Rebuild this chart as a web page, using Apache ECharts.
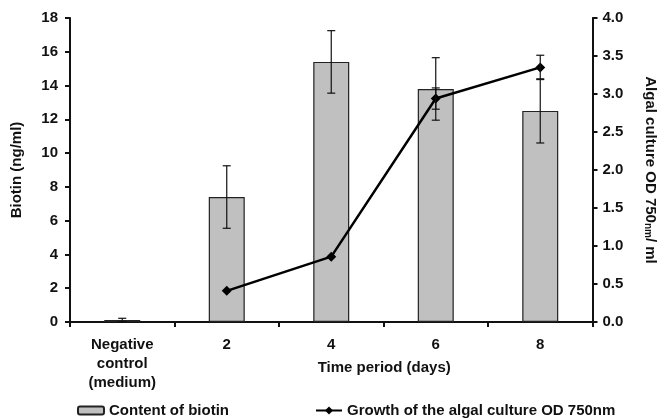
<!DOCTYPE html>
<html>
<head>
<meta charset="utf-8">
<script src="https://cdn.jsdelivr.net/npm/echarts@6/dist/echarts.min.js"></script>
<style>
html,body{margin:0;padding:0;background:#fff;}
#chart{width:666px;height:419px;}
</style>
</head>
<body>
<div id="chart"></div>
<script>
// data
var categories = ['Negative\ncontrol\n(medium)', '2', '4', '6', '8'];
var biotin = [0.12, 7.4, 15.4, 13.8, 12.5];
var biotinErr = [0.1, 1.85, 1.85, 1.85, 1.9];
var od = [null, 0.41, 0.86, 2.94, 3.35];
var odErr = [null, 0, 0, 0.14, 0.16];
var leftTicks = {min: 0, max: 18, interval: 2};
var rightTicks = {min: 0, max: 4, interval: 0.5};

var font = 'Liberation Sans, Arial, sans-serif';
var txt = {fontFamily: font, fontSize: 15, fontWeight: 'bold', color: '#111'};

// error bars: [categoryIndex, low, high]
function errData(vals, errs) {
    var out = [];
    for (var i = 0; i < vals.length; i++) {
        if (vals[i] == null || !errs[i]) continue;
        out.push([i, vals[i] - errs[i], vals[i] + errs[i]]);
    }
    return out;
}

function renderErr(params, api) {
    var x = api.value(0);
    var lo = api.coord([x, api.value(1)]);
    var hi = api.coord([x, api.value(2)]);
    var w = 4;
    var st = {stroke: '#111', lineWidth: 1.2};
    return {
        type: 'group',
        children: [
            {type: 'line', shape: {x1: lo[0], y1: lo[1], x2: hi[0], y2: hi[1]}, style: st},
            {type: 'line', shape: {x1: lo[0] - w, y1: lo[1], x2: lo[0] + w, y2: lo[1]}, style: st},
            {type: 'line', shape: {x1: hi[0] - w, y1: hi[1], x2: hi[0] + w, y2: hi[1]}, style: st}
        ]
    };
}

var chart = echarts.init(document.getElementById('chart'));
var option = {
    animation: false,
    textStyle: {fontFamily: font, color: '#111'},
    grid: {left: 70, right: 72, top: 18, bottom: 97},
    legend: [{
        data: ['Content of biotin'],
        left: 77, top: 403, padding: 0,
        itemWidth: 26, itemHeight: 8,
        textStyle: txt
    }, {
        data: ['Growth of the algal culture OD 750nm'],
        left: 315, top: 403, padding: 0,
        itemWidth: 26, itemHeight: 10,
        textStyle: txt
    }],
    xAxis: {
        type: 'category',
        data: categories,
        name: 'Time period (days)',
        nameLocation: 'middle',
        nameGap: 38,
        nameMoveOverlap: false,
        nameTextStyle: Object.assign({padding: [0, 0, 0, 106]}, txt),
        axisLine: {lineStyle: {color: '#111', width: 2}},
        axisTick: {show: true, length: 5, lineStyle: {color: '#111', width: 2}},
        axisLabel: Object.assign({margin: 13, lineHeight: 19, interval: 0}, txt)
    },
    yAxis: [{
        type: 'value',
        min: leftTicks.min, max: leftTicks.max, interval: leftTicks.interval,
        name: 'Biotin (ng/ml)',
        nameLocation: 'middle',
        nameGap: 46,
        nameMoveOverlap: false,
        nameTextStyle: txt,
        axisLine: {show: true, lineStyle: {color: '#111', width: 2}},
        axisTick: {show: true, length: 5, lineStyle: {color: '#111', width: 2}},
        axisLabel: Object.assign({margin: 12}, txt),
        splitLine: {show: false}
    }, {
        type: 'value',
        position: 'right',
        min: rightTicks.min, max: rightTicks.max, interval: rightTicks.interval,
        name: 'Algal culture OD 750{sub|nm}/ ml',
        nameLocation: 'middle',
        nameGap: 50,
        nameRotate: -90,
        nameMoveOverlap: false,
        nameTextStyle: Object.assign({
            rich: {sub: {fontFamily: font, fontSize: 10, fontWeight: 'bold', color: '#111', padding: [6, 0, 0, 0]}}
        }, txt),
        axisLine: {show: true, lineStyle: {color: '#111', width: 2}},
        axisTick: {show: true, length: 5, lineStyle: {color: '#111', width: 2}},
        axisLabel: Object.assign({
            margin: 10,
            formatter: function (v) { return v.toFixed(1); }
        }, txt),
        splitLine: {show: false}
    }],
    series: [{
        name: 'Content of biotin',
        type: 'bar',
        data: biotin,
        barWidth: 36,
        itemStyle: {color: '#c0c0c0', borderColor: '#222', borderWidth: 1.2}
    }, {
        type: 'custom',
        renderItem: renderErr,
        data: errData(biotin, biotinErr),
        encode: {x: 0, y: [1, 2]},
        z: 3
    }, {
        name: 'Growth of the algal culture OD 750nm',
        type: 'line',
        yAxisIndex: 1,
        data: od,
        symbol: 'diamond',
        symbolSize: 10,
        lineStyle: {color: '#000', width: 2.5},
        itemStyle: {color: '#000'},
        z: 5
    }, {
        type: 'custom',
        yAxisIndex: 1,
        renderItem: renderErr,
        data: errData(od, odErr),
        encode: {x: 0, y: [1, 2]},
        z: 6
    }]
};
chart.setOption(option);
</script>
</body>
</html>
